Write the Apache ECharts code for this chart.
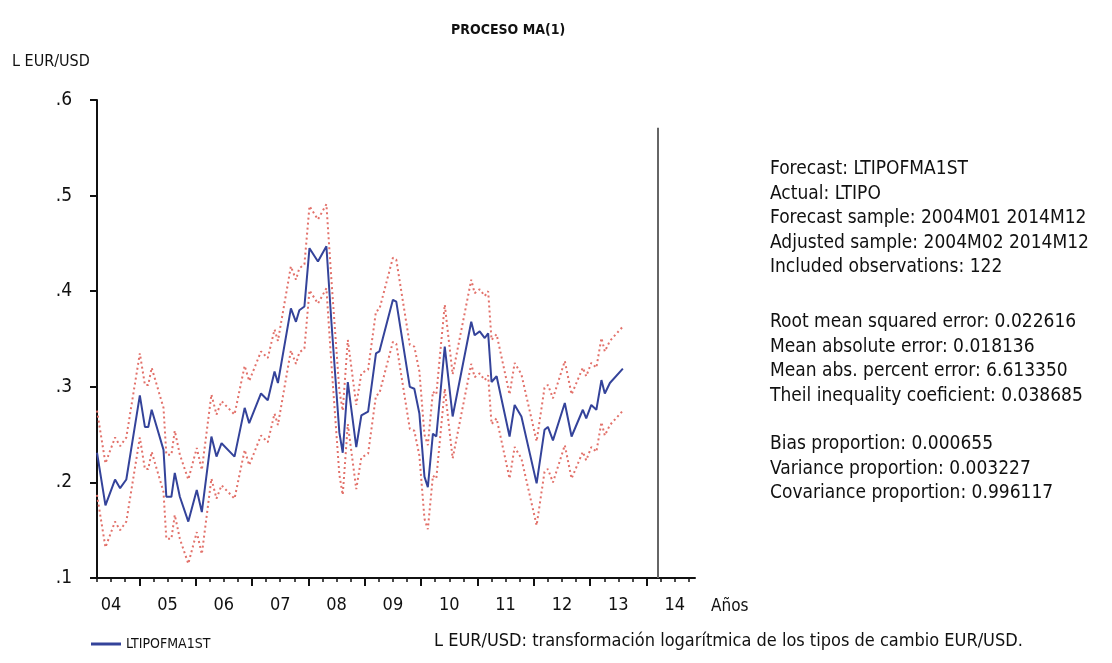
<!DOCTYPE html>
<html>
<head>
<meta charset="utf-8">
<script src="https://cdn.jsdelivr.net/npm/echarts@6/dist/echarts.min.js"></script>
<style>
  html, body { margin: 0; padding: 0; background: #fff; }
  #chart { width: 1112px; height: 663px; }
</style>
</head>
<body>
<div id="chart"></div>
<script>
var FONT = "'DejaVu Sans Condensed', 'Liberation Sans Narrow', sans-serif";

// decimal year of each vertex
var times = [2004.25, 2004.40, 2004.57, 2004.66, 2004.77, 2005.01, 2005.10, 2005.16, 2005.22, 2005.43,
    2005.48, 2005.57, 2005.63, 2005.72, 2005.87, 2006.02, 2006.11, 2006.28, 2006.37, 2006.46,
    2006.69, 2006.87, 2006.95, 2007.16, 2007.28, 2007.40, 2007.46, 2007.69, 2007.78, 2007.84,
    2007.93, 2008.02, 2008.17, 2008.32, 2008.41, 2008.55, 2008.61, 2008.70, 2008.85, 2008.94,
    2009.06, 2009.20, 2009.26, 2009.50, 2009.56, 2009.80, 2009.88, 2009.97, 2010.06, 2010.12,
    2010.21, 2010.27, 2010.42, 2010.56, 2010.89, 2010.95, 2011.04, 2011.13, 2011.19, 2011.25,
    2011.34, 2011.57, 2011.66, 2011.78, 2012.05, 2012.19, 2012.25, 2012.34, 2012.55, 2012.67,
    2012.87, 2012.93, 2013.02, 2013.11, 2013.20, 2013.26, 2013.35, 2013.58];

// LTIPOFMA1ST
var forecast = [0.231, 0.176, 0.203, 0.194, 0.203, 0.291, 0.258, 0.258, 0.276, 0.234,
    0.185, 0.185, 0.210, 0.185, 0.159, 0.192, 0.169, 0.248, 0.227, 0.241,
    0.227, 0.278, 0.262, 0.293, 0.286, 0.316, 0.304, 0.382, 0.368, 0.380,
    0.384, 0.445, 0.431, 0.447, 0.367, 0.252, 0.231, 0.305, 0.237, 0.270,
    0.274, 0.335, 0.337, 0.391, 0.389, 0.300, 0.298, 0.272, 0.206, 0.195,
    0.251, 0.248, 0.342, 0.269, 0.368, 0.354, 0.358, 0.351, 0.356, 0.305,
    0.311, 0.248, 0.281, 0.269, 0.199, 0.255, 0.258, 0.244, 0.283, 0.248,
    0.276, 0.267, 0.281, 0.276, 0.307, 0.293, 0.304, 0.319];

// +2 S.E.
var upper = [0.275, 0.220, 0.247, 0.238, 0.247, 0.335, 0.302, 0.302, 0.320, 0.278,
    0.229, 0.229, 0.254, 0.229, 0.203, 0.236, 0.213, 0.292, 0.271, 0.285,
    0.271, 0.322, 0.306, 0.337, 0.330, 0.360, 0.348, 0.426, 0.412, 0.424,
    0.428, 0.489, 0.475, 0.491, 0.411, 0.296, 0.275, 0.349, 0.281, 0.314,
    0.318, 0.379, 0.381, 0.435, 0.433, 0.344, 0.342, 0.316, 0.250, 0.239,
    0.295, 0.292, 0.386, 0.313, 0.412, 0.398, 0.402, 0.395, 0.400, 0.349,
    0.355, 0.292, 0.325, 0.313, 0.243, 0.299, 0.302, 0.288, 0.327, 0.292,
    0.320, 0.311, 0.325, 0.320, 0.351, 0.337, 0.348, 0.363];

// -2 S.E.
var lower = [0.187, 0.132, 0.159, 0.150, 0.159, 0.247, 0.214, 0.214, 0.232, 0.190,
    0.141, 0.141, 0.166, 0.141, 0.115, 0.148, 0.125, 0.204, 0.183, 0.197,
    0.183, 0.234, 0.218, 0.249, 0.242, 0.272, 0.260, 0.338, 0.324, 0.336,
    0.340, 0.401, 0.387, 0.403, 0.323, 0.208, 0.187, 0.261, 0.193, 0.226,
    0.230, 0.291, 0.293, 0.347, 0.345, 0.256, 0.254, 0.228, 0.162, 0.151,
    0.207, 0.204, 0.298, 0.225, 0.324, 0.310, 0.314, 0.307, 0.312, 0.261,
    0.267, 0.204, 0.237, 0.225, 0.155, 0.211, 0.214, 0.200, 0.239, 0.204,
    0.232, 0.223, 0.237, 0.232, 0.263, 0.249, 0.260, 0.275];

var yearLabels = [2004.5, 2005.5, 2006.5, 2007.5, 2008.5, 2009.5, 2010.5, 2011.5, 2012.5, 2013.5, 2014.5];
var yearTicks = [2005, 2006, 2007, 2008, 2009, 2010, 2011, 2012, 2013, 2014];
var quarterTicks = [];
for (var q = 2004.25; q < 2014.86; q += 0.25) {
    quarterTicks.push(q);
}
var forecastEnd = 2014.2;

var statsTop = [
    'Forecast: LTIPOFMA1ST',
    'Actual: LTIPO',
    'Forecast sample: 2004M01 2014M12',
    'Adjusted sample: 2004M02 2014M12',
    'Included observations: 122'
];
var statsErr = [
    'Root mean squared error: 0.022616',
    'Mean absolute error: 0.018136',
    'Mean abs. percent error: 6.613350',
    'Theil inequality coeficient: 0.038685'
];
var statsProp = [
    'Bias proportion: 0.000655',
    'Variance proportion: 0.003227',
    'Covariance proportion: 0.996117'
];

function zip(xs, ys) {
    return xs.map(function (x, i) { return [x, ys[i]]; });
}

var chart = echarts.init(document.getElementById('chart'));

var textStyle = function (text, size, weight) {
    return {
        text: text,
        fill: '#111',
        font: (weight || 'normal') + ' ' + size + 'px ' + FONT,
        lineHeight: 24.5
    };
};

var option = {
    backgroundColor: '#fff',
    animation: false,
    textStyle: { fontFamily: FONT },
    grid: { left: 97, right: 417, top: 100, bottom: 85 },
    legend: {
        left: 86,
        top: 632,
        itemWidth: 30,
        itemHeight: 3,
        itemGap: 8,
        textStyle: { fontSize: 14, color: '#111', fontFamily: FONT },
        data: [{ name: 'LTIPOFMA1ST', icon: 'rect' }]
    },
    xAxis: [{
        type: 'value',
        min: 2004.25,
        max: 2014.86,
        splitLine: { show: false },
        axisLine: { lineStyle: { color: '#111', width: 2 } },
        axisTick: { customValues: quarterTicks, length: 4, lineStyle: { color: '#111', width: 1.5 } },
        axisLabel: {
            customValues: yearLabels,
            margin: 18,
            fontSize: 18,
            color: '#111',
            formatter: function (v) { return String(Math.floor(v)).slice(2); }
        }
    }, {
        type: 'value',
        position: 'bottom',
        min: 2004.25,
        max: 2014.86,
        splitLine: { show: false },
        axisLine: { show: false },
        axisTick: { customValues: yearTicks, length: 8, lineStyle: { color: '#111', width: 2 } },
        axisLabel: { show: false }
    }],
    yAxis: {
        type: 'value',
        min: 0.1,
        max: 0.6,
        interval: 0.1,
        splitLine: { show: false },
        axisLine: { show: true, lineStyle: { color: '#111', width: 2 } },
        axisTick: { show: true, length: 7, lineStyle: { color: '#111', width: 2 } },
        axisLabel: {
            fontSize: 19,
            color: '#111',
            margin: 25,
            formatter: function (v) { return v.toFixed(1).replace('0.', '.'); }
        }
    },
    series: [{
        name: 'upper',
        type: 'line',
        data: zip(times, upper),
        symbol: 'none',
        lineStyle: { color: '#e2716a', width: 2, type: [2, 3] },
        z: 2
    }, {
        name: 'lower',
        type: 'line',
        data: zip(times, lower),
        symbol: 'none',
        lineStyle: { color: '#e2716a', width: 2, type: [2, 3] },
        z: 2
    }, {
        name: 'LTIPOFMA1ST',
        type: 'line',
        data: zip(times, forecast),
        symbol: 'none',
        itemStyle: { color: '#34439a' },
        lineStyle: { color: '#34439a', width: 2 },
        z: 3,
        markLine: {
            silent: true,
            symbol: 'none',
            label: { show: false },
            lineStyle: { color: '#666', width: 2, type: 'solid' },
            data: [[{ coord: [forecastEnd, 0.1] }, { coord: [forecastEnd, 0.571] }]]
        }
    }],
    graphic: [
        { type: 'text', left: 451, top: 18, style: textStyle('PROCESO MA(1)', 14, 'bold') },
        { type: 'text', left: 12, top: 50, style: textStyle('L EUR/USD', 16) },
        { type: 'text', left: 711, top: 594, style: textStyle('Años', 17) },
        { type: 'text', left: 770, top: 157, style: textStyle(statsTop.join('\n'), 19) },
        { type: 'text', left: 770, top: 310, style: textStyle(statsErr.join('\n'), 19) },
        { type: 'text', left: 770, top: 432, style: textStyle(statsProp.join('\n'), 19) },
        { type: 'text', left: 434, top: 629, style: textStyle('L EUR/USD: transformación logarítmica de los tipos de cambio EUR/USD.', 18) }
    ]
};

chart.setOption(option);
</script>
</body>
</html>
